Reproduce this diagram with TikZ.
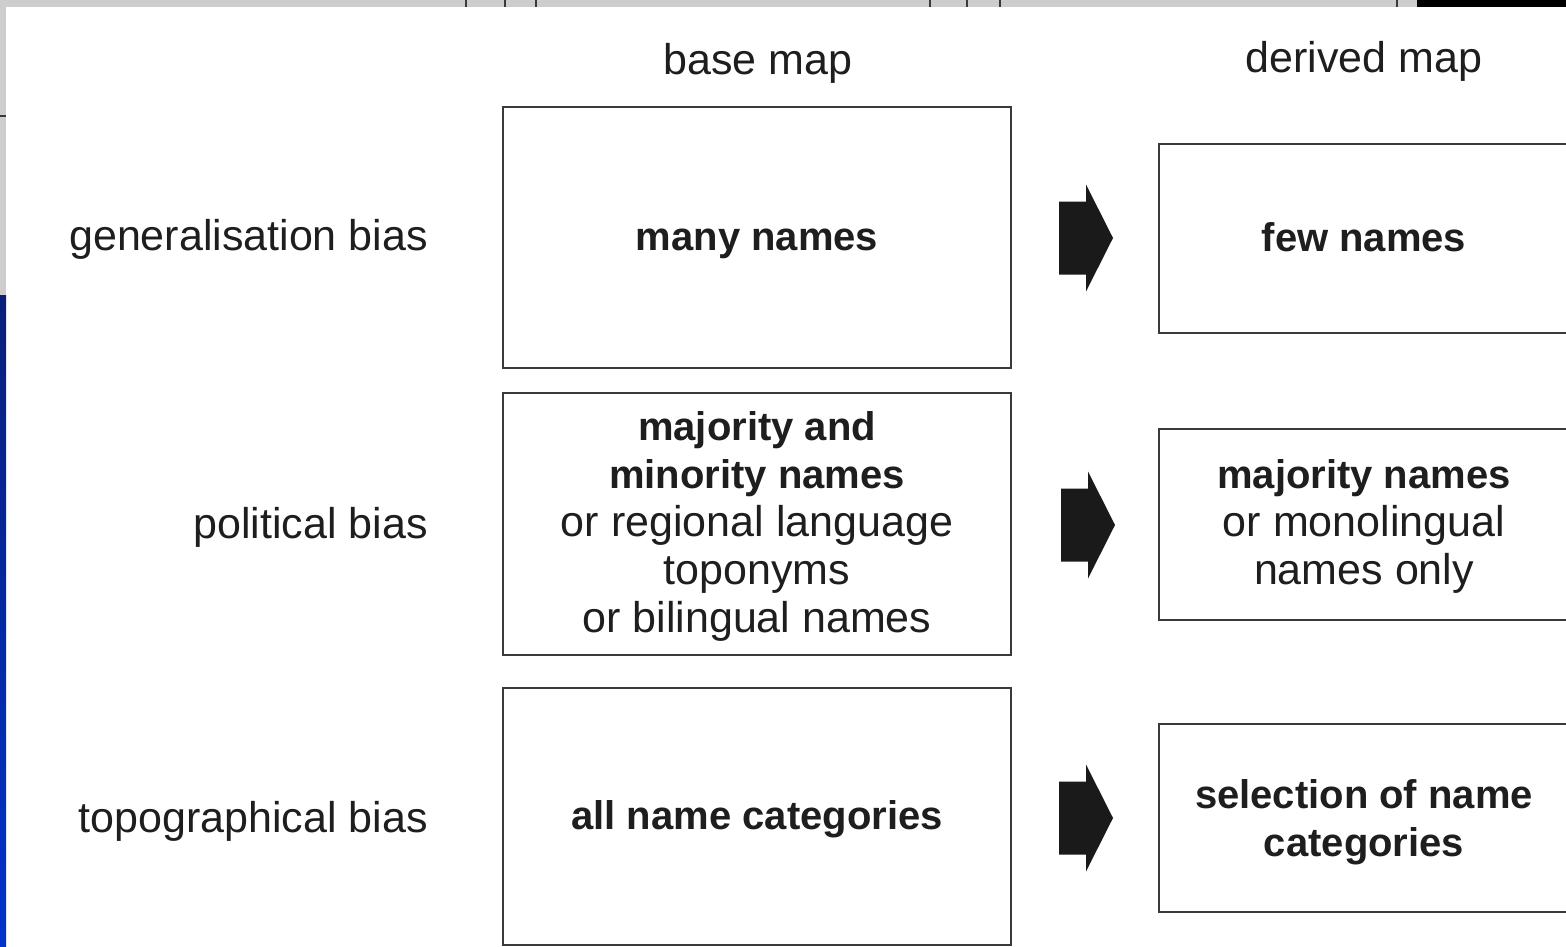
\documentclass[tikz,border=0pt]{standalone}
\usepackage{fontspec}
\setmainfont{Liberation Sans}
\definecolor{boxgray}{HTML}{3A3A3A}
\definecolor{txt}{HTML}{1E1E1E}
\definecolor{stripgray}{HTML}{CDCDCD}
\definecolor{navyA}{HTML}{0A1F7A}
\definecolor{blueB}{HTML}{0033CC}
\definecolor{arrowfill}{HTML}{1A1A1A}
\newcommand{\bl}[1]{{\fontsize{40}{48}\selectfont\bfseries #1}}
\begin{document}
\begin{tikzpicture}[x=1pt,y=-1pt,
  mapbox/.style={draw=boxgray, line width=2.5pt, inner sep=0pt},
  boxtext/.style={text=txt, inner sep=0pt, align=center, font=\fontsize{43}{48}\selectfont},
  lbl/.style={text=txt, inner sep=0pt, font=\fontsize{43}{48}\selectfont},
  blockarrow/.style={fill=arrowfill}]
\useasboundingbox (0,0) rectangle (1566,947);
\clip (0,0) rectangle (1566,947);
\fill[white] (0,0) rectangle (1566,947);
% scan edges
\fill[stripgray] (0,0) rectangle (1566,7);
\fill[stripgray] (0,0) rectangle (6,295);
\draw[line width=2pt, boxgray] (0,116) -- (6,116);
\shade[top color=navyA, bottom color=blueB] (0,295) rectangle (6,947);
\fill[black] (1417,0) rectangle (1566,7);
\foreach \xx in {466,505,536,930,967,1000,1397}
  \draw[line width=2pt, boxgray] (\xx,0) -- (\xx,7);

% column headings
\node[lbl, anchor=base] (hbase) at (758,75) {base map};
\node[lbl, anchor=base] (hder) at (1364,73) {derived map};

% row labels
\node[lbl, anchor=base east] (lgen) at (428,250) {generalisation bias};
\node[lbl, anchor=base east] (lpol) at (428,538) {political bias};
\node[lbl, anchor=base east] (ltop) at (428,832) {topographical bias};

% base map boxes
\node[mapbox, minimum width=508pt, minimum height=261pt] (b1) at (757,237.5) {};
\node[mapbox, minimum width=508pt, minimum height=262pt] (b2) at (757,524) {};
\node[mapbox, minimum width=508pt, minimum height=257pt] (b3) at (757,816.5) {};
\node[boxtext, yshift=-6pt] (tb1) at (b1.center) {\bl{many names}};
\node[boxtext, yshift=-2pt] (tb2) at (b2.center)
  {\bl{majority and}\\\bl{minority names}\\or regional language\\toponyms\\or bilingual names};
\node[boxtext, yshift=-3pt] (tb3) at (b3.center) {\bl{all name categories}};

% derived map boxes
\node[mapbox, minimum width=410pt, minimum height=189pt] (d1) at (1364,238.5) {};
\node[mapbox, minimum width=410pt, minimum height=191pt] (d2) at (1364,524.5) {};
\node[mapbox, minimum width=410pt, minimum height=188pt] (d3) at (1364,818) {};
\node[boxtext, yshift=1pt] (td1) at (d1.center) {\bl{few names}};
\node[boxtext, yshift=-2pt] (td2) at (d2.center) {\bl{majority names}\\or monolingual\\names only};
\node[boxtext, yshift=-4pt] (td3) at (d3.center) {\bl{selection of name}\\\bl{categories}};

% block arrows
\newcommand{\blkarrow}[2]{%
  \fill[blockarrow] (#1-27,#2-36.5) -- (#1,#2-36.5) -- (#1,#2-53.5) -- (#1+27,#2)
    -- (#1,#2+53.5) -- (#1,#2+36.5) -- (#1-27,#2+36.5) -- cycle;}
\blkarrow{1086}{238}
\blkarrow{1088}{525}
\blkarrow{1086}{818}
\end{tikzpicture}
\end{document}
